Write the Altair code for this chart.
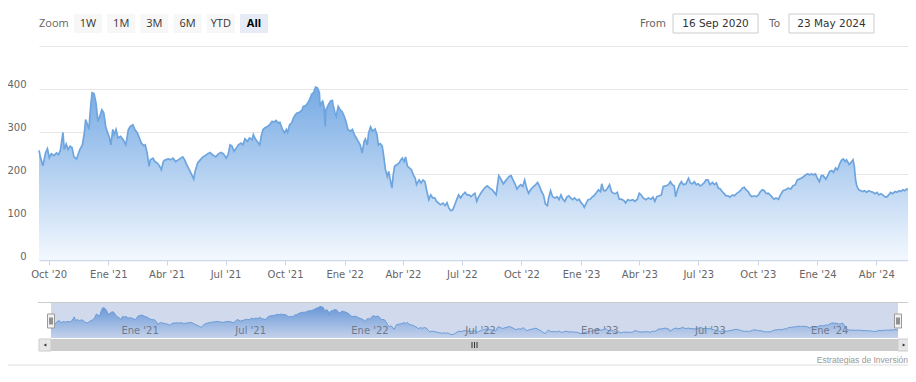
import altair as alt
import pandas as pd

START = "2020-09-16"
END = "2024-05-23"

# days since 16 Sep 2020 and price in six stretches
days_a = [0, 2, 6, 10, 13, 16, 19, 23, 27, 30, 33, 37, 39, 42, 45, 48, 51, 54, 58, 63,
          67, 70, 72, 74, 77, 80, 82, 85, 88, 91, 93, 97, 100, 103, 106, 109, 111, 114, 116, 119,
          122, 126, 130, 134, 138, 141, 145, 148, 152, 155, 158, 162, 164, 167, 170, 172, 176, 179, 183, 186,
          189, 192, 195, 200, 203, 207, 211, 215, 219, 222, 225]
price_a = [256, 242, 220, 250, 260, 239, 248, 244, 250, 246, 256, 298, 258, 271, 258, 266, 263, 241, 236, 258,
           269, 297, 328, 320, 305, 363, 391, 389, 367, 324, 332, 351, 344, 312, 297, 285, 269, 305, 293, 305,
           285, 289, 281, 269, 305, 312, 316, 305, 297, 285, 273, 267, 269, 250, 219, 234, 238, 230, 226, 220,
           211, 230, 234, 236, 234, 238, 230, 234, 238, 241, 234]

days_b = [228, 232, 236, 239, 241, 245, 249, 253, 257, 260, 264, 268, 273, 277, 281, 285, 289, 292, 295, 298,
          301, 305, 308, 312, 315, 318, 322, 325, 329, 331, 334, 337, 341, 343, 346, 349, 353, 356, 360, 363,
          366, 370, 372, 376, 379, 382, 384, 387, 390, 393, 396, 399, 402, 406, 408, 412, 415, 418, 421, 424,
          427, 430, 433, 434, 436, 438, 440, 442, 443, 447, 450, 453]
price_b = [223, 211, 199, 189, 207, 227, 234, 241, 244, 248, 251, 246, 241, 248, 251, 248, 238, 246, 269, 266,
           254, 262, 269, 273, 269, 283, 277, 285, 281, 293, 283, 277, 269, 289, 305, 309, 312, 316, 324, 322,
           326, 320, 322, 305, 297, 305, 298, 316, 320, 332, 340, 344, 345, 350, 359, 361, 367, 375, 387, 391,
           404, 402, 391, 359, 367, 371, 359, 312, 351, 363, 371, 373]

days_c = [454, 457, 459, 462, 465, 468, 471, 474, 477, 481, 484, 487, 490, 493, 496, 499, 502, 504, 507, 509,
          512, 515, 519, 522, 524, 527, 530, 532, 535, 538, 540, 543, 545, 547, 549, 553, 556, 559, 561, 564,
          566, 569, 572, 575, 578, 581, 583, 587, 590, 593, 596, 599, 602, 605, 608, 611, 614, 617, 620, 624,
          627, 630, 633, 636, 639, 642, 645, 648, 651, 654, 658, 661, 664, 667, 670, 673, 676, 679]
price_c = [363, 344, 336, 359, 351, 347, 337, 324, 305, 301, 305, 293, 285, 277, 269, 250, 277, 283, 269, 297,
           311, 301, 306, 293, 269, 272, 266, 246, 211, 195, 207, 183, 168, 199, 219, 223, 227, 234, 238, 230,
           241, 219, 215, 211, 199, 191, 176, 187, 180, 187, 183, 160, 141, 152, 145, 145, 137, 133, 129, 133,
           127, 134, 121, 115, 117, 129, 141, 152, 145, 152, 158, 152, 152, 148, 152, 156, 137, 148]

days_d = [684, 688, 692, 696, 700, 703, 706, 709, 710, 714, 717, 721, 726, 729, 732, 735, 738, 741, 744, 747,
          750, 753, 756, 760, 764, 767, 770, 773, 776, 779, 782, 785, 787, 790, 793, 797, 800, 803, 806, 809,
          812, 815, 818, 821, 824, 827, 831, 834, 837, 840, 842, 845, 848, 851, 854, 857, 860, 864, 867, 869,
          872, 875, 878, 881, 884, 887, 890, 893, 896, 899, 903, 906, 909]
price_d = [160, 168, 173, 168, 164, 158, 152, 187, 197, 187, 178, 186, 195, 197, 187, 178, 166, 172, 176, 172,
           187, 168, 156, 166, 172, 176, 181, 172, 160, 152, 131, 127, 145, 162, 148, 145, 148, 141, 152, 142,
           137, 147, 150, 145, 141, 145, 139, 142, 134, 129, 123, 133, 141, 142, 147, 150, 156, 164, 160, 178,
           162, 162, 168, 176, 160, 156, 155, 158, 142, 142, 139, 133, 141]

days_e = [913, 917, 920, 924, 927, 930, 933, 937, 941, 945, 948, 951, 954, 958, 961, 964, 968, 972, 975, 978,
          981, 983, 986, 989, 992, 995, 999, 1003, 1006, 1009, 1012, 1015, 1018, 1021, 1024, 1027, 1030, 1033, 1036, 1040,
          1043, 1046, 1049, 1052, 1055, 1058, 1061, 1064, 1067, 1071, 1074, 1077, 1080, 1083, 1086, 1089, 1092, 1095, 1098, 1101,
          1104, 1108, 1111, 1114, 1117, 1120, 1123, 1126, 1129, 1132, 1135, 1138]
price_e = [139, 141, 137, 142, 156, 152, 145, 141, 145, 142, 147, 137, 148, 150, 152, 172, 173, 176, 183, 176,
           173, 148, 164, 176, 183, 176, 178, 191, 180, 178, 183, 176, 178, 173, 176, 180, 187, 187, 176, 181,
           176, 180, 168, 166, 160, 155, 150, 150, 147, 152, 150, 155, 158, 162, 168, 170, 164, 160, 152, 148,
           150, 148, 152, 160, 164, 162, 155, 156, 152, 147, 142, 145]

days_f = [1142, 1145, 1149, 1153, 1157, 1161, 1164, 1168, 1171, 1174, 1177, 1181, 1184, 1187, 1190, 1193, 1196, 1199, 1202, 1205,
          1208, 1211, 1215, 1218, 1221, 1224, 1227, 1230, 1233, 1236, 1239, 1242, 1245, 1247, 1251, 1254, 1257, 1259, 1261, 1263,
          1266, 1269, 1272, 1275, 1278, 1281, 1284, 1288, 1291, 1294, 1297, 1300, 1303, 1306, 1309, 1312, 1315, 1318, 1322, 1325,
          1328, 1331, 1334, 1337, 1340, 1343, 1345]
price_f = [142, 152, 162, 164, 168, 166, 173, 176, 187, 189, 191, 195, 199, 201, 199, 201, 199, 201, 191, 183,
           197, 197, 189, 197, 207, 209, 205, 215, 211, 223, 233, 236, 230, 234, 223, 228, 234, 219, 187, 172,
           164, 162, 160, 162, 158, 162, 160, 158, 155, 158, 152, 155, 152, 148, 147, 152, 158, 155, 160, 158,
           162, 160, 164, 162, 166, 164, 160]

axis_ticks = ["2020-10-01", "2021-01-01", "2021-04-01", "2021-07-01", "2021-10-01", "2022-01-01",
              "2022-04-01", "2022-07-01", "2022-10-01", "2023-01-01", "2023-04-01", "2023-07-01",
              "2023-10-01", "2024-01-01", "2024-04-01"]
y_ticks = [0, 100, 200, 300, 400, 500]
nav_ticks = ["2021-01-01", "2021-07-01", "2022-01-01", "2022-07-01", "2023-01-01", "2023-07-01", "2024-01-01"]
nav_labels = ["Ene '21", "Jul '21", "Ene '22", "Jul '22", "Ene '23", "Jul '23", "Ene '24"]
range_buttons = ["1W", "1M", "3M", "6M", "YTD", "All"]
from_text = "16 Sep 2020"
to_text = "23 May 2024"
credit_text = "Estrategias de Inversión"

days = days_a + days_b + days_c + days_d + days_e + days_f
prices = price_a + price_b + price_c + price_d + price_e + price_f
assert len(days) == len(prices)

dates = (pd.Timestamp(START) + pd.to_timedelta(days, unit="D")).strftime("%Y-%m-%d")
df = pd.DataFrame({"date": list(dates), "price": prices})
nav_df = pd.DataFrame({"tick": nav_ticks, "label": nav_labels})
one = pd.DataFrame({"k": [0]})


def dt(s):
    y, m, d = (int(v) for v in s.split("-"))
    return alt.DateTime(year=y, month=m, date=d, utc=True)


FONT = "DejaVu Sans"
W, H = 871, 214

# ---------------- main plot ----------------
month_expr = ("(utcmonth(datum.value)==0?'Ene':utcmonth(datum.value)==3?'Abr':"
              "utcmonth(datum.value)==6?'Jul':'Oct') + \" '\" + utcFormat(datum.value, '%y')")
x_main = alt.X(
    "date:T",
    scale=alt.Scale(type="utc", domain=[dt(START), dt(END)], nice=False),
    axis=alt.Axis(values=[dt(s) for s in axis_ticks], labelExpr=month_expr, title=None, grid=False,
                  domainColor="#ccd6eb", domainWidth=1.5, tickColor="#ccd6eb", tickSize=5,
                  labelColor="#666666", labelFont=FONT, labelFontSize=10, labelPadding=4,
                  labelFlush=False, labelOverlap=False),
)
y_main = alt.Y(
    "price:Q",
    scale=alt.Scale(domain=[0, 500], nice=False),
    axis=alt.Axis(values=y_ticks, labelExpr="datum.value >= 500 ? '' : datum.label", title=None,
                  domain=False, ticks=False, gridColor="#e6e6e6", labelColor="#666666",
                  labelFont=FONT, labelFontSize=10, labelPadding=13, labelOffset=-1,
                  labelBaseline="alphabetic"),
)
grad = alt.LinearGradient(
    gradient="linear",
    stops=[alt.GradientStop(color="rgb(118,170,228)", offset=0),
           alt.GradientStop(color="rgb(243,248,254)", offset=1)],
    x1=0, x2=0, y1=0, y2=1,
)
base = alt.Chart(df)
main = alt.layer(
    base.mark_area(color=grad).encode(x=x_main, y=y_main),
    base.mark_line(color="#6ea5de", strokeWidth=1.7).encode(x=x_main, y=y_main),
)

# ---------------- navigator ----------------
nav_scale_x = alt.Scale(type="utc", domain=[dt(START), dt(END)], range=[12, 859], nice=False)
nav_scale_y = alt.Scale(domain=[80, 446], range=[292, 256.5], nice=False, zero=False)
nx = alt.X("date:T", scale=nav_scale_x, axis=None)
ny = alt.Y("price:Q", scale=nav_scale_y, axis=None)
ntx = alt.X("tick:T", scale=nav_scale_x, axis=None)
grad2 = alt.LinearGradient(
    gradient="linear",
    stops=[alt.GradientStop(color="rgb(105,160,225)", offset=0),
           alt.GradientStop(color="rgb(238,244,252)", offset=1)],
    x1=0, x2=0, y1=0, y2=1,
)
nav = alt.layer(
    alt.Chart(nav_df).mark_rule(color="#ffffff", strokeWidth=1).encode(
        x=ntx, y=alt.value(256.5), y2=alt.value(292)),
    base.mark_area(color=grad2).encode(x=nx, y=ny, y2=alt.datum(80)),
    base.mark_line(color="#6ea5de", strokeWidth=1).encode(x=nx, y=ny),
    alt.Chart(one).mark_rect(fill="rgba(102,133,194,0.3)").encode(
        x=alt.value(12), x2=alt.value(859), y=alt.value(256.5), y2=alt.value(292)),
    alt.Chart(nav_df).mark_text(align="left", baseline="alphabetic", dx=3, font=FONT, fontSize=10,
                                color="#6f7a8c").encode(x=ntx, y=alt.value(288), text="label:N"),
)


# ---------------- UI pieces (range selector, scrollbar, credits) ----------------
def box(x0, x1, y0, y1, fill, **kw):
    return alt.Chart(one).mark_rect(fill=fill, **kw).encode(
        x=alt.value(x0), x2=alt.value(x1), y=alt.value(y0), y2=alt.value(y1))


def txt(s, x, y, align="left", size=10, color="#666666", weight="normal", font=FONT, baseline="middle"):
    return alt.Chart(one).mark_text(text=s, align=align, baseline=baseline, fontSize=size, color=color,
                                    fontWeight=weight, font=font).encode(x=alt.value(x), y=alt.value(y))


def rule(x0, x1, y0, y1, color, width=1):
    return alt.Chart(one).mark_rule(color=color, strokeWidth=width).encode(
        x=alt.value(x0), x2=alt.value(x1), y=alt.value(y0), y2=alt.value(y1))


ui = [txt("Zoom", 0, -22.5, size=11, font="Open Sans")]
for i, b in enumerate(range_buttons):
    x0 = 35 + i * 33.2
    selected = b == "All"
    ui.append(box(x0, x0 + 28, -32, -13, "#e6ebf5" if selected else "#f7f7f7"))
    ui.append(txt(b, x0 + 14, -22.5, align="center", size=11, font="Open Sans",
                  color="#000000" if selected else "#333333", weight="bold" if selected else "normal"))
ui += [
    txt("From", 601, -22.5, size=10.5),
    box(634, 719, -32, -13, "#ffffff", stroke="#cccccc", strokeWidth=1),
    txt(from_text, 676.5, -22.5, align="center", size=10.5, color="#333333"),
    txt("To", 730, -22.5, size=10.5),
    box(750, 835, -32, -13, "#ffffff", stroke="#cccccc", strokeWidth=1),
    txt(to_text, 792.5, -22.5, align="center", size=10.5, color="#333333"),
    # navigator outline
    rule(-1, 871, 256.5, 256.5, "#cccccc"),
    # scrollbar
    box(0, 871, 293, 305, "#f2f2f2"),
    box(12, 859, 293, 305, "#cccccc"),
    box(0, 12, 293, 305, "#e6e6e6", stroke="#cccccc", strokeWidth=1),
    box(859, 871, 293, 305, "#e6e6e6", stroke="#cccccc", strokeWidth=1),
    alt.Chart(one).mark_point(shape="triangle-left", filled=True, size=10, color="#333333", opacity=1).encode(
        x=alt.value(6), y=alt.value(299)),
    alt.Chart(one).mark_point(shape="triangle-right", filled=True, size=10, color="#333333", opacity=1).encode(
        x=alt.value(865), y=alt.value(299)),
]
for gx in (433, 435.5, 438):
    ui.append(rule(gx, gx, 296, 302, "#333333"))
for hx in (12, 859):
    ui.append(box(hx - 3.5, hx + 3.5, 268, 282, "#f2f2f2", stroke="#999999", strokeWidth=1))
    ui.append(rule(hx - 1, hx - 1, 271.5, 278.5, "#333333"))
    ui.append(rule(hx + 1, hx + 1, 271.5, 278.5, "#333333"))
ui += [
    txt(credit_text, 869, 314, align="right", size=8.5, color="#999999", font="Liberation Sans"),
    rule(-31, 875, 319, 319, "#dddddd"),
]

# svg kept at 900px wide (the page body width) so the browser does not shrink it
chart = (
    alt.layer(main, nav, *ui)
    .resolve_scale(x="independent", y="independent")
    .properties(width=W, height=H, autosize=alt.AutoSizeParams(type="none"),
                padding={"left": 31, "top": 38, "right": -2, "bottom": 106})
    .configure_view(stroke=None)
)

chart.save("out.html", embed_options={"renderer": "svg", "actions": False})
